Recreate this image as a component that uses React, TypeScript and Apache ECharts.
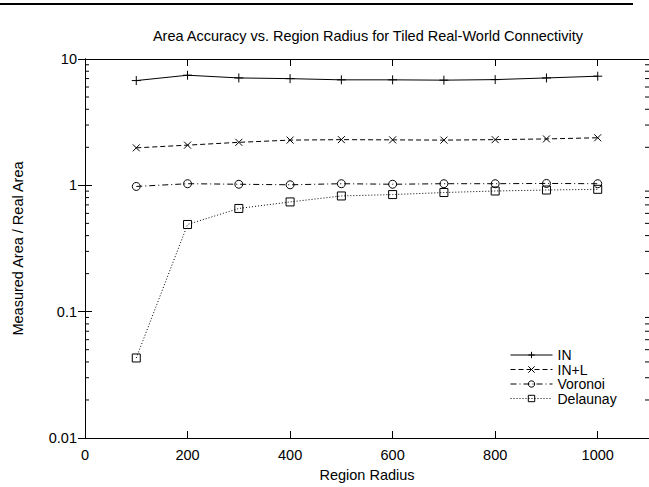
import React, { useEffect, useRef } from "react";
import * as echarts from "echarts";

const radius = [100, 200, 300, 400, 500, 600, 700, 800, 900, 1000];
const inVals = [6.75, 7.44, 7.08, 6.99, 6.84, 6.84, 6.8, 6.87, 7.08, 7.31];
const inlVals = [1.98, 2.08, 2.19, 2.28, 2.3, 2.29, 2.28, 2.3, 2.33, 2.38];
const voronoiVals = [0.98, 1.03, 1.02, 1.01, 1.03, 1.02, 1.03, 1.03, 1.035, 1.03];
const delaunayVals = [0.043, 0.49, 0.656, 0.739, 0.824, 0.845, 0.877, 0.902, 0.918, 0.93];
const seriesNames = ["IN", "IN+L", "Voronoi", "Delaunay"];
const minorTicks = [
  0.02, 0.03, 0.04, 0.05, 0.06, 0.07, 0.08, 0.09,
  0.2, 0.3, 0.4, 0.5, 0.6, 0.7, 0.8, 0.9,
  2, 3, 4, 5, 6, 7, 8, 9,
];
const X_MIN = 0;
const X_MAX = 1100;
const Y_MIN = 0.01;
const Y_MAX = 10;

const FONT = "'Liberation Sans', Arial, Helvetica, sans-serif";
const FS = 14.5;

export default function App() {
  const ref = useRef<HTMLDivElement>(null);
  useEffect(() => {
    if (!ref.current) return;
    const chart = echarts.init(ref.current, null, { renderer: "svg" });
    const mk = (name: string, data: number[], symbol: string, size: number, dash: any) => ({
      name,
      type: "line",
      data: radius.map((r, i) => [r, data[i]]),
      symbol,
      symbolSize: size,
      showSymbol: true,
      lineStyle: { color: "#000", width: 1, type: dash },
      itemStyle: { color: "transparent", borderColor: "#000", borderWidth: 1 },
      emphasis: { disabled: true },
      silent: true,
      z: 5,
    });
    chart.setOption({
      animation: false,
      textStyle: { fontFamily: FONT },
      grid: { left: 85, top: 59, width: 569, height: 382, containLabel: false },
      graphic: [
        { type: "rect", shape: { x: 0, y: 3, width: 633, height: 2 }, style: { fill: "#000" } },
        {
          type: "text",
          x: 368,
          y: 36,
          style: {
            text: "Area Accuracy vs. Region Radius for Tiled Real-World Connectivity",
            fontSize: FS,
            fontFamily: FONT,
            fill: "#000",
            textAlign: "center",
            textVerticalAlign: "middle",
          },
        },
      ],
      legend: {
        data: seriesNames,
        orient: "vertical",
        left: 505,
        top: 343,
        itemWidth: 42,
        itemHeight: 8,
        itemGap: 0.5,
        selectedMode: false,
        lineStyle: { width: 1 },
        itemStyle: { borderWidth: 1 },
        textStyle: { fontSize: 14, color: "#000", fontFamily: FONT, lineHeight: 14 },
      },
      xAxis: [
        {
          type: "value",
          min: X_MIN,
          max: X_MAX,
          interval: 200,
          position: "bottom",
          name: "Region Radius",
          nameLocation: "middle",
          nameGap: 29,
          nameTextStyle: { fontSize: FS, color: "#000", fontFamily: FONT },
          axisLine: { show: true, lineStyle: { color: "#000", width: 1 } },
          axisTick: { show: true, inside: true, length: 7, lineStyle: { color: "#000" } },
          axisLabel: {
            fontSize: FS,
            color: "#000",
            margin: 9,
            showMaxLabel: false,
            fontFamily: FONT,
            formatter: (v: number) => String(v),
          },
          splitLine: { show: false },
        },
        {
          type: "value",
          min: X_MIN,
          max: X_MAX,
          interval: 200,
          position: "top",
          axisLine: { show: true, lineStyle: { color: "#000", width: 1 } },
          axisTick: { show: true, inside: true, length: 7, lineStyle: { color: "#000" } },
          axisLabel: { show: false },
          splitLine: { show: false },
        },
      ],
      yAxis: [
        {
          type: "log",
          logBase: 10,
          min: Y_MIN,
          max: Y_MAX,
          position: "left",
          name: "Measured Area / Real Area",
          nameLocation: "middle",
          nameRotate: 90,
          nameGap: 60,
          nameTextStyle: { fontSize: FS, color: "#000", fontFamily: FONT },
          axisLine: { show: true, lineStyle: { color: "#000", width: 1 } },
          axisTick: { show: true, inside: true, length: 7, lineStyle: { color: "#000" } },
          axisLabel: {
            fontSize: FS,
            color: "#000",
            margin: 8,
            fontFamily: FONT,
            formatter: (v: number) => String(+v.toPrecision(3)),
          },
          splitLine: { show: false },
        },
        {
          type: "log",
          logBase: 10,
          min: Y_MIN,
          max: Y_MAX,
          position: "right",
          axisLine: { show: true, lineStyle: { color: "#000", width: 1 } },
          axisTick: { show: true, inside: true, length: 7, lineStyle: { color: "#000" } },
          axisLabel: { show: false },
          splitLine: { show: false },
        },
      ],
      series: [
        mk("IN", inVals, "path://M0 5H10M5 0V10", 9, "solid"),
        mk("IN+L", inlVals, "path://M0 0L10 10M10 0L0 10", 7, [5, 3]),
        mk("Voronoi", voronoiVals, "circle", 8, [6, 3, 1, 3]),
        mk("Delaunay", delaunayVals, "rect", 8, [1, 2]),
        {
          type: "custom",
          coordinateSystem: "cartesian2d",
          xAxisIndex: 0,
          yAxisIndex: 0,
          silent: true,
          clip: false,
          z: 10,
          data: minorTicks.map((v) => [X_MIN, v]),
          encode: { x: 0, y: 1 },
          renderItem: (_params: any, api: any) => {
            const v = api.value(1);
            const l = api.coord([X_MIN, v]);
            const r = api.coord([X_MAX, v]);
            return {
              type: "group",
              children: [
                { type: "line", shape: { x1: l[0], y1: l[1], x2: l[0] + 4, y2: l[1] }, style: { stroke: "#000", lineWidth: 1 } },
                { type: "line", shape: { x1: r[0] - 4, y1: r[1], x2: r[0], y2: r[1] }, style: { stroke: "#000", lineWidth: 1 } },
              ],
            };
          },
        },
      ],
    });
    return () => chart.dispose();
  }, []);
  return (
    <div
      ref={ref}
      style={{ position: "fixed", left: 0, top: 0, width: 649, height: 487, background: "#fff" }}
    />
  );
}
